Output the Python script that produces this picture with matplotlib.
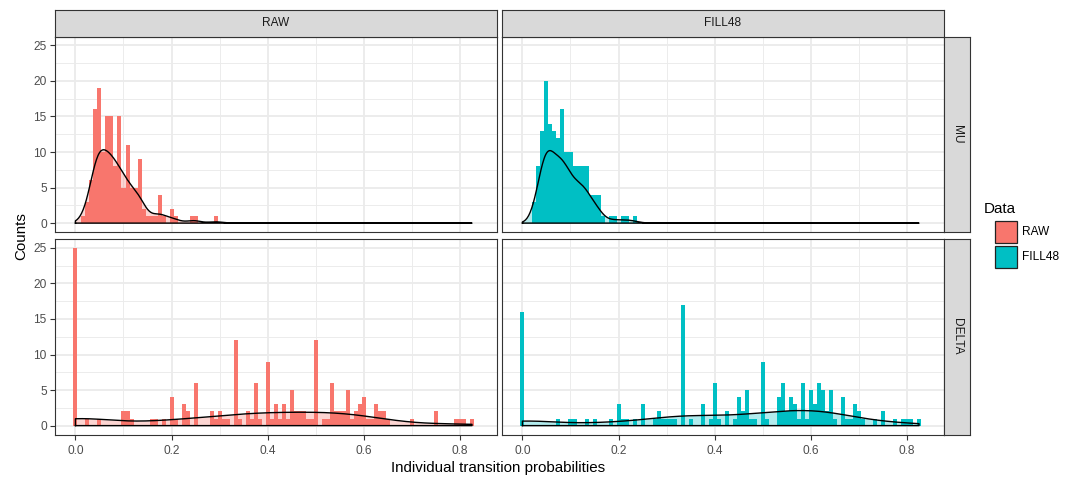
import numpy as np
import matplotlib
matplotlib.use("Agg")
import matplotlib.pyplot as plt
from matplotlib.patches import Rectangle

plt.rcParams['font.family'] = ['Liberation Sans', 'DejaVu Sans']

# histogram bins: bin k is centred at k * BINWIDTH
BINWIDTH = 1 / 120.0

mu_raw_bins = [2, 3, 4, 5, 6, 7, 8, 9, 10, 11, 12, 13, 14, 15, 16, 17, 18, 19, 20, 21, 22, 24, 25, 29, 30, 35]
mu_raw_counts = [1, 3, 6, 16, 19, 10, 15, 15, 8, 15, 5, 11, 5, 5, 9, 2, 1, 1, 1, 4, 1, 2, 1, 1, 1, 1]

mu_fill_bins = [3, 4, 5, 6, 7, 8, 9, 10, 11, 12, 13, 14, 15, 16, 17, 18, 19, 20, 22, 23, 25, 26, 28]
mu_fill_counts = [3, 8, 13, 20, 14, 13, 12, 16, 10, 10, 8, 8, 8, 8, 4, 4, 4, 1, 1, 1, 1, 1, 1]

delta_raw_bins = [0, 3, 6, 12, 13, 14, 19, 20, 22, 24, 25, 27, 28, 30, 34, 35, 36, 37, 38, 40,
                  41, 43, 44, 45, 46, 48, 49, 50, 51, 52, 53, 54, 55, 56, 57, 58, 59, 60, 62, 63,
                  64, 65, 66, 67, 68, 69, 70, 71, 72, 73, 74, 75, 76, 77, 78, 84, 90, 95, 96, 97, 99]
delta_raw_counts = [25, 1, 1, 2, 2, 1, 1, 1, 1, 4, 1, 3, 2, 6, 2, 1, 2, 1, 1, 12,
                    1, 2, 1, 6, 1, 9, 1, 3, 1, 3, 1, 5, 2, 2, 2, 1, 1, 12, 1, 1,
                    6, 2, 2, 2, 5, 1, 2, 3, 4, 1, 1, 3, 2, 2, 1, 1, 2, 1, 1, 1, 1]

delta_fill_bins = [0, 9, 12, 13, 16, 18, 22, 24, 25, 26, 28, 30, 33, 34, 35, 36, 37, 38, 40, 42,
                   45, 47, 48, 49, 51, 53, 54, 55, 56, 57, 58, 60, 61, 64, 65, 66, 67, 68, 69, 70,
                   71, 72, 73, 74, 75, 76, 77, 78, 80, 81, 82, 83, 84, 85, 88, 90, 93, 95, 96, 97, 99]
delta_fill_counts = [16, 1, 1, 1, 1, 1, 1, 3, 1, 1, 1, 3, 1, 2, 1, 1, 1, 1, 17, 1,
                     3, 1, 6, 1, 2, 1, 4, 2, 5, 1, 1, 9, 1, 4, 6, 2, 4, 3, 1, 6,
                     1, 5, 3, 6, 5, 2, 5, 1, 4, 1, 1, 3, 2, 1, 1, 2, 1, 1, 1, 1, 1]

rows = ['MU', 'DELTA']
cols = ['RAW', 'FILL48']
colors = {'RAW': '#F8766D', 'FILL48': '#00BFC4'}
panels = {
    ('MU', 'RAW'): (mu_raw_bins, mu_raw_counts),
    ('MU', 'FILL48'): (mu_fill_bins, mu_fill_counts),
    ('DELTA', 'RAW'): (delta_raw_bins, delta_raw_counts),
    ('DELTA', 'FILL48'): (delta_fill_bins, delta_fill_counts),
}


def kde(sample, grid):
    # gaussian kernel, bw.nrd0 like R
    n = len(sample)
    sd = np.std(sample, ddof=1)
    iqr = np.subtract(*np.percentile(sample, [75, 25]))
    lo = min(sd, iqr / 1.34) if iqr > 0 else sd
    bw = 0.9 * lo * n ** -0.2
    z = (grid[:, None] - sample[None, :]) / bw
    return np.exp(-0.5 * z ** 2).sum(axis=1) / (n * bw * np.sqrt(2 * np.pi))


W, H = 1075, 479
fig = plt.figure(figsize=(W / 100, H / 100), dpi=100)


def px_axes(x0, y0, x1, y1):
    return fig.add_axes([x0 / W, 1 - y1 / H, (x1 - x0) / W, (y1 - y0) / H])


xmax_all = max(max(b) for b, c in panels.values()) * BINWIDTH
grid = np.linspace(0, xmax_all, 512)

col_x = [(55, 497), (502, 944)]
row_y = [(36.5, 232), (239, 434.5)]
border = '#333333'

for i, r in enumerate(rows):
    for j, c in enumerate(cols):
        ax = px_axes(col_x[j][0], row_y[i][0], col_x[j][1], row_y[i][1])
        bins, counts = panels[(r, c)]
        centers = np.array(bins) * BINWIDTH
        ax.bar(centers, counts, width=BINWIDTH, color=colors[c], linewidth=0, zorder=2)

        sample = np.repeat(centers, counts)
        dens = kde(sample, grid)
        ax.fill_between(grid, dens, color=colors[c], alpha=0.3, linewidth=0, zorder=3)
        ax.plot(np.r_[grid[0], grid, grid[-1], grid[0]], np.r_[0, dens, 0, 0],
                color='black', lw=1.0, zorder=4)

        ax.set_xlim(-0.0425, 0.877)
        ax.set_ylim(-1.25, 26.25)
        ax.set_xticks([0, 0.2, 0.4, 0.6, 0.8])
        ax.set_xticks([0.1, 0.3, 0.5, 0.7], minor=True)
        ax.set_yticks([0, 5, 10, 15, 20, 25])
        ax.set_yticks([2.5, 7.5, 12.5, 17.5, 22.5], minor=True)
        ax.grid(True, which='major', color='#EBEBEB', lw=1.3, zorder=0)
        ax.grid(True, which='minor', color='#EBEBEB', lw=0.65, zorder=0)
        ax.set_axisbelow(True)
        for s in ax.spines.values():
            s.set_color(border)
            s.set_linewidth(0.8)
        ax.tick_params(which='minor', length=0)
        ax.tick_params(which='major', length=3.5, width=0.8, color=border,
                       labelsize=8.6, labelcolor='#4D4D4D', pad=2.5)
        if i == 0:
            ax.tick_params(axis='x', which='major', length=0, labelbottom=False)
        else:
            ax.set_xticklabels(['0.0', '0.2', '0.4', '0.6', '0.8'])
            ax.tick_params(axis='x', pad=4)
        if j == 1:
            ax.tick_params(axis='y', which='major', length=0, labelleft=False)

        # right-hand strips
        if j == 1:
            sa = px_axes(944, row_y[i][0], 970, row_y[i][1])
            sa.set_facecolor('#D9D9D9')
            sa.set_xticks([])
            sa.set_yticks([])
            for s in sa.spines.values():
                s.set_color(border)
                s.set_linewidth(0.8)
            sa.text(0.5, 0.5, r, rotation=-90, ha='center', va='center',
                    fontsize=8.6, color='#1A1A1A', transform=sa.transAxes)

# top strips
for j, c in enumerate(cols):
    sa = px_axes(col_x[j][0], 10, col_x[j][1], 36.5)
    sa.set_facecolor('#D9D9D9')
    sa.set_xticks([])
    sa.set_yticks([])
    for s in sa.spines.values():
        s.set_color(border)
        s.set_linewidth(0.8)
    sa.text(0.5, 0.5, c, ha='center', va='center', fontsize=8.6, color='#1A1A1A',
            transform=sa.transAxes)

fig.text(21 / W, 1 - 236 / H, 'Counts', rotation=90, ha='center', va='center', fontsize=10.9)
fig.text(498 / W, 1 - 468 / H, 'Individual transition probabilities', ha='center', va='center',
         fontsize=10.9)

# legend
fig.text(984 / W, 1 - 209 / H, 'Data', ha='left', va='center', fontsize=10.9)
for n, c in enumerate(cols):
    y0 = 221 + n * 25
    fig.add_artist(Rectangle((995 / W, 1 - (y0 + 22) / H), 22 / W, 22 / H,
                             facecolor=colors[c], edgecolor='#222222', lw=0.9,
                             transform=fig.transFigure))
    fig.text(1022 / W, 1 - (y0 + 11) / H, c, ha='left', va='center', fontsize=8.6)

fig.savefig('out.png', dpi=100)
